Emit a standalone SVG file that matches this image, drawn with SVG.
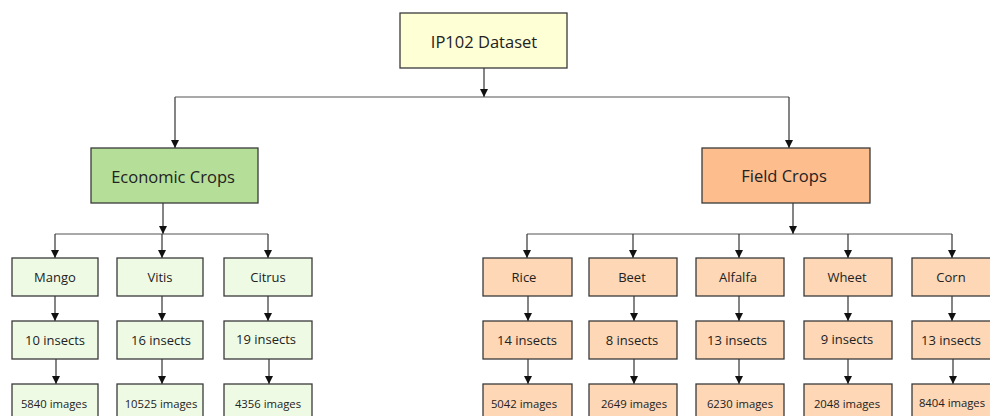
<svg xmlns="http://www.w3.org/2000/svg" width="990" height="416" viewBox="0 0 990 416">
  <defs>
    <marker id="arr" viewBox="0 0 10 10" refX="10" refY="5" markerWidth="8" markerHeight="8" markerUnits="userSpaceOnUse" orient="auto">
      <path d="M0,0 L10,5 L0,10 z" fill="#111"/>
    </marker>
    <style>
      .box { stroke: #3a3a3a; stroke-width: 1.3; }
      .root { fill: #FFFFD6; }
      .econ { fill: #B5DF98; }
      .field { fill: #FDBD8D; }
      .eleaf { fill: #EFFAE5; }
      .fleaf { fill: #FDD7B6; }
      .t { font-family: "Open Sans", "Liberation Sans", sans-serif; fill: #222; text-anchor: middle; dominant-baseline: central; }
      .big { font-size: 16.5px; }
      .mid { font-size: 13px; }
      .sml { font-size: 11.3px; }
      .ln { fill: none; stroke: #555; stroke-width: 1.2; }
      .ar { fill: none; stroke: #333; stroke-width: 1.2; marker-end: url(#arr); }
    </style>
  </defs>

  <!-- connectors -->
  <g id="connectors">
    <line class="ar" x1="484" y1="68" x2="484" y2="97"/>
    <polyline class="ar" points="175,97 175,148"/>
    <line class="ln" x1="175" y1="97" x2="789" y2="97"/>
    <polyline class="ar" points="789,97 789,148"/>

    <!-- economic crops branch -->
    <line class="ar" x1="163" y1="203" x2="163" y2="234"/>
    <line class="ln" x1="55" y1="234" x2="268" y2="234"/>
    <line class="ar" x1="55" y1="234" x2="55" y2="258"/>
    <line class="ar" x1="162" y1="234" x2="162" y2="258"/>
    <line class="ar" x1="268" y1="234" x2="268" y2="258"/>
    <line class="ar" x1="55" y1="296" x2="55" y2="321"/>
    <line class="ar" x1="162" y1="296" x2="162" y2="321"/>
    <line class="ar" x1="268" y1="296" x2="268" y2="321"/>
    <line class="ar" x1="56" y1="359" x2="56" y2="384"/>
    <line class="ar" x1="162" y1="359" x2="162" y2="384"/>
    <line class="ar" x1="269" y1="359" x2="269" y2="384"/>

    <!-- field crops branch -->
    <line class="ar" x1="793" y1="203" x2="793" y2="234"/>
    <line class="ln" x1="527" y1="234" x2="952" y2="234"/>
    <line class="ar" x1="527" y1="234" x2="527" y2="258"/>
    <line class="ar" x1="633" y1="234" x2="633" y2="258"/>
    <line class="ar" x1="739" y1="234" x2="739" y2="258"/>
    <line class="ar" x1="848" y1="234" x2="848" y2="258"/>
    <line class="ar" x1="952" y1="234" x2="952" y2="258"/>
    <line class="ar" x1="528" y1="296" x2="528" y2="321"/>
    <line class="ar" x1="634" y1="296" x2="634" y2="321"/>
    <line class="ar" x1="739" y1="296" x2="739" y2="321"/>
    <line class="ar" x1="848" y1="296" x2="848" y2="321"/>
    <line class="ar" x1="952" y1="296" x2="952" y2="321"/>
    <line class="ar" x1="528" y1="359" x2="528" y2="384"/>
    <line class="ar" x1="634" y1="359" x2="634" y2="384"/>
    <line class="ar" x1="739" y1="359" x2="739" y2="384"/>
    <line class="ar" x1="848" y1="359" x2="848" y2="384"/>
    <line class="ar" x1="953" y1="359" x2="953" y2="384"/>
  </g>

  <!-- root -->
  <g id="ip102">
    <rect class="box root" x="400" y="13" width="167" height="55"/>
    <text class="t big" x="484" y="41">IP102 Dataset</text>
  </g>

  <!-- categories -->
  <g id="economic-crops">
    <rect class="box econ" x="91" y="148" width="167" height="55"/>
    <text class="t big" x="173" y="176">Economic Crops</text>
  </g>
  <g id="field-crops">
    <rect class="box field" x="702" y="148" width="168" height="55"/>
    <text class="t big" x="784" y="175">Field Crops</text>
  </g>

  <!-- economic crops leaves -->
  <g id="mango">
    <rect class="box eleaf" x="12" y="258" width="86" height="38"/>
    <text class="t mid" x="55" y="277">Mango</text>
  </g>
  <g id="vitis">
    <rect class="box eleaf" x="117" y="258" width="86" height="38"/>
    <text class="t mid" x="160" y="277">Vitis</text>
  </g>
  <g id="citrus">
    <rect class="box eleaf" x="224" y="258" width="88" height="38"/>
    <text class="t mid" x="268" y="277">Citrus</text>
  </g>
  <g id="mango-insects">
    <rect class="box eleaf" x="12" y="321" width="86" height="38"/>
    <text class="t mid" x="55" y="340">10 insects</text>
  </g>
  <g id="vitis-insects">
    <rect class="box eleaf" x="117" y="321" width="86" height="38"/>
    <text class="t mid" x="161" y="340">16 insects</text>
  </g>
  <g id="citrus-insects">
    <rect class="box eleaf" x="224" y="321" width="88" height="38"/>
    <text class="t mid" x="266" y="339">19 insects</text>
  </g>
  <g id="mango-images">
    <rect class="box eleaf" x="12" y="384" width="86" height="40"/>
    <text class="t sml" x="54" y="403">5840 images</text>
  </g>
  <g id="vitis-images">
    <rect class="box eleaf" x="117" y="384" width="86" height="40"/>
    <text class="t sml" x="161" y="403">10525 images</text>
  </g>
  <g id="citrus-images">
    <rect class="box eleaf" x="224" y="384" width="88" height="40"/>
    <text class="t sml" x="268" y="403">4356 images</text>
  </g>

  <!-- field crops leaves -->
  <g id="rice">
    <rect class="box fleaf" x="483" y="258" width="89" height="38"/>
    <text class="t mid" x="524" y="277">Rice</text>
  </g>
  <g id="beet">
    <rect class="box fleaf" x="589" y="258" width="88" height="38"/>
    <text class="t mid" x="632" y="277">Beet</text>
  </g>
  <g id="alfalfa">
    <rect class="box fleaf" x="696" y="258" width="88" height="38"/>
    <text class="t mid" x="738" y="277">Alfalfa</text>
  </g>
  <g id="wheet">
    <rect class="box fleaf" x="804" y="258" width="88" height="38"/>
    <text class="t mid" x="847" y="277">Wheet</text>
  </g>
  <g id="corn">
    <rect class="box fleaf" x="912" y="258" width="80" height="38"/>
    <text class="t mid" x="951" y="277">Corn</text>
  </g>
  <g id="rice-insects">
    <rect class="box fleaf" x="483" y="321" width="89" height="38"/>
    <text class="t mid" x="527" y="340">14 insects</text>
  </g>
  <g id="beet-insects">
    <rect class="box fleaf" x="589" y="321" width="88" height="38"/>
    <text class="t mid" x="632" y="340">8 insects</text>
  </g>
  <g id="alfalfa-insects">
    <rect class="box fleaf" x="696" y="321" width="88" height="38"/>
    <text class="t mid" x="737" y="340">13 insects</text>
  </g>
  <g id="wheet-insects">
    <rect class="box fleaf" x="804" y="321" width="88" height="38"/>
    <text class="t mid" x="847" y="339">9 insects</text>
  </g>
  <g id="corn-insects">
    <rect class="box fleaf" x="912" y="321" width="80" height="38"/>
    <text class="t mid" x="951" y="340">13 insects</text>
  </g>
  <g id="rice-images">
    <rect class="box fleaf" x="483" y="384" width="89" height="40"/>
    <text class="t sml" x="524" y="403">5042 images</text>
  </g>
  <g id="beet-images">
    <rect class="box fleaf" x="589" y="384" width="88" height="40"/>
    <text class="t sml" x="634" y="403">2649 images</text>
  </g>
  <g id="alfalfa-images">
    <rect class="box fleaf" x="696" y="384" width="88" height="40"/>
    <text class="t sml" x="740" y="403">6230 images</text>
  </g>
  <g id="wheet-images">
    <rect class="box fleaf" x="804" y="384" width="88" height="40"/>
    <text class="t sml" x="847" y="403">2048 images</text>
  </g>
  <g id="corn-images">
    <rect class="box fleaf" x="912" y="384" width="80" height="40"/>
    <text class="t sml" x="952" y="402">8404 images</text>
  </g>
</svg>
